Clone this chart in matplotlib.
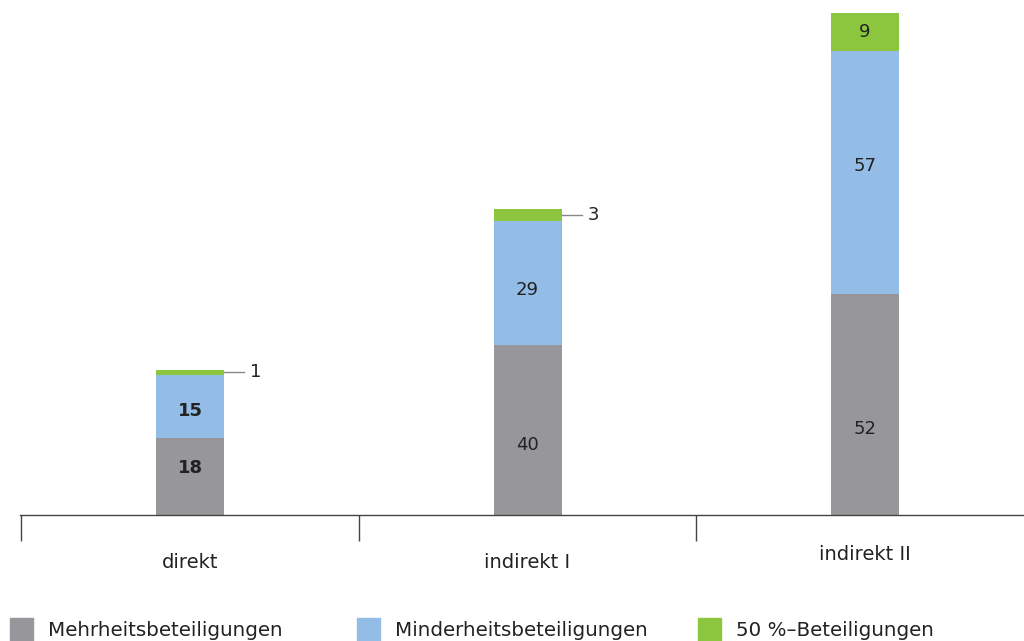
import numpy as np
import matplotlib.pyplot as plt
from matplotlib.patches import Rectangle
import matplotlib.transforms as mtransforms

# Daten
kategorien = ["direkt", "indirekt I", "indirekt II"]
mehrheit = [18, 40, 52]
minderheit = [15, 29, 57]
fuenfzig = [1, 3, 9]
serien = ["Mehrheitsbeteiligungen", "Minderheitsbeteiligungen", "50 %\u2013Beteiligungen"]

farben = ["#97979b", "#93bde6", "#8cc63f"]
textfarbe = "#222222"

plt.rcParams['font.family'] = ['DejaVu Sans']

fig = plt.figure(figsize=(10.24, 6.41), dpi=100)
W, H = 1024, 641
ax = fig.add_axes([0, (H - 515) / H, 1, 502 / H])

x = np.arange(len(kategorien))
breite = 68 / 337.5
ax.bar(x, mehrheit, breite, color=farben[0])
ax.bar(x, minderheit, breite, bottom=mehrheit, color=farben[1])
unten2 = np.array(mehrheit) + np.array(minderheit)
ax.bar(x, fuenfzig, breite, bottom=unten2, color=farben[2])

ax.set_xlim(-190 / 337.5, (W - 190) / 337.5)
ax.set_ylim(0, 118)

# kleine Verschiebungen der Zahlen (in Punkt), wie im Original gesetzt
dy_mehr = [6, -11, -18]
dy_minder = [-3, -5, 5]

# Beschriftungen in den Balken
for i in range(len(kategorien)):
    fw = 'bold' if i == 0 else 'normal'
    ax.annotate(str(mehrheit[i]), (x[i], mehrheit[i] / 2), xytext=(0, dy_mehr[i]),
                textcoords='offset points', ha='center', va='center',
                fontsize=13, color=textfarbe, fontweight=fw)
    ax.annotate(str(minderheit[i]), (x[i], mehrheit[i] + minderheit[i] / 2),
                xytext=(0, dy_minder[i]), textcoords='offset points', ha='center',
                va='center', fontsize=13, color=textfarbe, fontweight=fw)
    top = unten2[i] + fuenfzig[i] / 2
    if fuenfzig[i] >= 5:
        ax.text(x[i], top, str(fuenfzig[i]), ha='center', va='center',
                fontsize=13, color=textfarbe)
    else:
        x0 = x[i] + breite / 2
        ax.plot([x0, x0 + 20 / 337.5], [top, top], color="#888888", lw=1)
        ax.text(x0 + 26 / 337.5, top, str(fuenfzig[i]), ha='left', va='center',
                fontsize=13, color=textfarbe)

# Achse
for s in ['top', 'left', 'right']:
    ax.spines[s].set_visible(False)
ax.spines['bottom'].set_color("#444444")
ax.spines['bottom'].set_linewidth(1)
ax.spines['bottom'].set_bounds(-0.505, ax.get_xlim()[1])
ax.set_yticks([])
ax.set_xticks([-0.5, 0.5, 1.5])
ax.set_xticklabels([])
ax.tick_params(axis='x', length=19, width=1, color="#444444", direction='out')

trans = mtransforms.blended_transform_factory(ax.transData, fig.transFigure)
label_y = [563, 563, 555]
for i, k in enumerate(kategorien):
    ax.text(x[i], (H - label_y[i]) / H, k, transform=trans, ha='center', va='center',
            fontsize=14, color=textfarbe)

# Legende
leg_x = [10, 357, 698]
for i, name in enumerate(serien):
    fig.patches.append(Rectangle((leg_x[i] / W, (H - 641) / H), 23 / W, 23 / H,
                                 transform=fig.transFigure, color=farben[i]))
    fig.text((leg_x[i] + 38) / W, (H - 630) / H, name, ha='left', va='center',
             fontsize=14.3, color=textfarbe)

fig.savefig("out.png", dpi=100)
